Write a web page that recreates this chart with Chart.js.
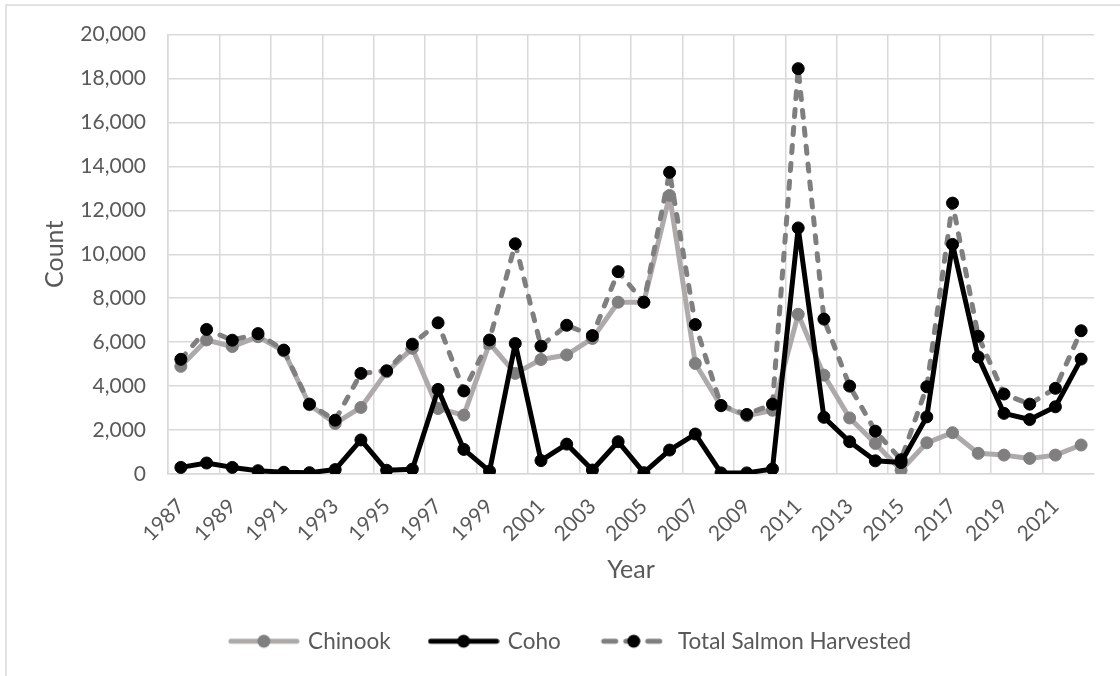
<!DOCTYPE html>
<html>
<head>
  <title>Salmon Harvested</title>
<script src="https://cdn.jsdelivr.net/npm/chart.js"></script>
<meta name="viewport" content="width=device-width, initial-scale=1.0">
</head>
<style>
body {
  margin: 0;
  background: #fff;
  overflow: hidden;
}

#chart-container {
  position: relative;
  width: 1120px;
  height: 676px;
}
</style>
<body>
<div id="chart-container">
  <canvas id="chart"></canvas>
</div>
</body>
<script>
const years = ['1987', '1988', '1989', '1990', '1991', '1992', '1993', '1994', '1995', '1996',
  '1997', '1998', '1999', '2000', '2001', '2002', '2003', '2004', '2005', '2006',
  '2007', '2008', '2009', '2010', '2011', '2012', '2013', '2014', '2015', '2016',
  '2017', '2018', '2019', '2020', '2021', '2022'];
const chinook = [4900, 6100, 5800, 6250, 5600, 3150, 2300, 3030, 4650, 5720,
  2980, 2680, 5950, 4580, 5210, 5420, 6170, 7820, 7820, 12680,
  5030, 3100, 2650, 2900, 7270, 4500, 2550, 1390, 170, 1420,
  1880, 940, 860, 710, 860, 1320];
const coho = [300, 500, 300, 150, 80, 60, 200, 1550, 170, 220,
  3850, 1120, 130, 5940, 610, 1360, 180, 1470, 60, 1090,
  1820, 50, 50, 230, 11200, 2580, 1470, 600, 520, 2600,
  10450, 5330, 2760, 2480, 3060, 5230];
const total = [5220, 6580, 6090, 6390, 5640, 3180, 2450, 4580, 4700, 5910,
  6880, 3780, 6100, 10480, 5820, 6770, 6300, 9210, 7820, 13730,
  6800, 3120, 2710, 3180, 18450, 7050, 4000, 1950, 650, 3970,
  12330, 6270, 3640, 3180, 3900, 6520];

const textColor = '#595959';
const gridColor = '#d9d9d9';
const tickFont = { family: 'Lato', size: 21 };
const legendFont = { family: 'Lato', size: 22.5 };
const titleFont = { family: 'Lato', size: 25 };

// little line + marker pictures for the legend
function makeIcon(lineColor, dotColor, dashed) {
  const c = document.createElement('canvas');
  c.width = 72;
  c.height = 16;
  const g = c.getContext('2d');
  g.strokeStyle = lineColor;
  g.lineWidth = 5;
  g.lineCap = 'round';
  if (dashed) {
    g.setLineDash([12, 10]);
  }
  g.beginPath();
  g.moveTo(dashed ? 6 : 3, 8);
  g.lineTo(dashed ? 66 : 69, 8);
  g.stroke();
  g.fillStyle = dotColor;
  g.beginPath();
  g.arc(36, 8, 6.5, 0, Math.PI * 2);
  g.fill();
  return c;
}
const legendIcons = [
  makeIcon('#aeaaaa', '#7f7f7f', false),
  makeIcon('#000000', '#000000', false),
  makeIcon('#7f7f7f', '#000000', true)
];

// thin frame round the chart like the original
const framePlugin = {
  id: 'frame',
  beforeDraw(chart) {
    const ctx = chart.ctx;
    ctx.save();
    ctx.strokeStyle = gridColor;
    ctx.lineWidth = 1.5;
    ctx.beginPath();
    ctx.moveTo(6, chart.height);
    ctx.lineTo(6, 5);
    ctx.lineTo(chart.width, 5);
    ctx.stroke();
    ctx.restore();
  }
};

const lineStyle = {
  borderWidth: 5,
  borderJoinStyle: 'round',
  pointRadius: 6,
  pointBorderWidth: 1,
  tension: 0
};

const chartEl = document.getElementById('chart');
const chart = new Chart(chartEl, {
  type: 'line',
  data: {
    labels: years,
    datasets: [{
      ...lineStyle,
      label: 'Chinook',
      data: chinook,
      borderColor: '#aeaaaa',
      backgroundColor: '#7f7f7f',
      pointBackgroundColor: '#7f7f7f',
      pointBorderColor: '#7f7f7f',
      order: 3
    }, {
      ...lineStyle,
      label: 'Coho',
      data: coho,
      borderColor: '#000000',
      backgroundColor: '#000000',
      pointBackgroundColor: '#000000',
      pointBorderColor: '#000000',
      order: 1
    }, {
      ...lineStyle,
      label: 'Total Salmon Harvested',
      data: total,
      borderColor: '#7f7f7f',
      backgroundColor: '#000000',
      borderDash: [7, 11],
      borderCapStyle: 'round',
      pointBackgroundColor: '#000000',
      pointBorderColor: '#000000',
      order: 2
    }]
  },
  options: {
    responsive: true,
    maintainAspectRatio: false,
    animation: false,
    layout: {
      padding: { top: 34, right: 26, left: 48, bottom: 13.5 }
    },
    plugins: {
      tooltip: { enabled: false },
      legend: {
        position: 'bottom',
        labels: {
          usePointStyle: true,
          pointStyleWidth: 66,
          padding: 40,
          color: textColor,
          font: legendFont,
          sort: (a, b) => a.datasetIndex - b.datasetIndex,
          generateLabels(ch) {
            const items = Chart.defaults.plugins.legend.labels.generateLabels(ch);
            items.forEach((item) => { item.pointStyle = legendIcons[item.datasetIndex]; });
            return items;
          }
        }
      }
    },
    scales: {
      x: {
        offset: true,
        grid: {
          offset: true,
          drawTicks: false,
          lineWidth: 1.5,
          color: (ctx) => ctx.index % 2 === 0 ? gridColor : 'rgba(0,0,0,0)'
        },
        border: { color: gridColor, width: 1.5 },
        ticks: {
          autoSkip: false,
          minRotation: 45,
          maxRotation: 45,
          padding: 20,
          color: textColor,
          font: tickFont,
          callback(value, index) {
            return index % 2 === 0 ? this.getLabelForValue(value) : '';
          }
        },
        title: {
          display: true,
          text: 'Year',
          color: textColor,
          font: titleFont,
          padding: { top: 0, bottom: 5 }
        },
        afterFit(scale) {
          scale.height = 116;
        }
      },
      y: {
        min: 0,
        max: 20000,
        grid: {
          drawTicks: false,
          lineWidth: 1.5,
          color: gridColor
        },
        border: { color: gridColor, width: 1.5 },
        ticks: {
          stepSize: 2000,
          padding: 22,
          color: textColor,
          font: tickFont,
          callback: (value) => value.toLocaleString('en-US')
        },
        title: {
          display: true,
          text: 'Count',
          color: textColor,
          font: titleFont,
          padding: { top: -8, bottom: 0 }
        },
        afterFit(scale) {
          scale.width = 120;
        }
      }
    }
  },
  plugins: [framePlugin]
});
</script>
</html>
